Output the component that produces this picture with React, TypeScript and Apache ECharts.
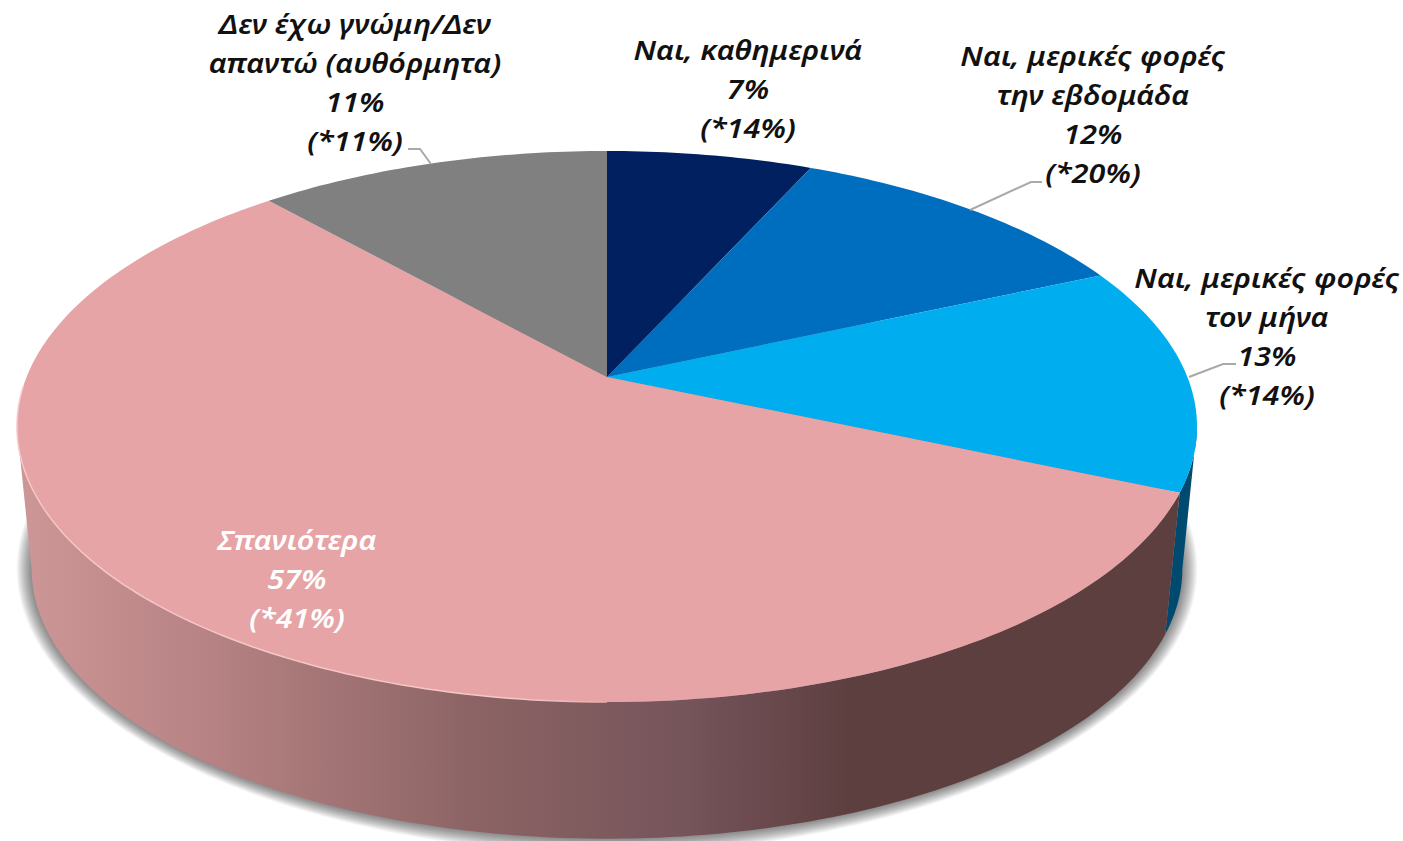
import React, { useEffect, useRef } from "react";
import * as echarts from "echarts";

const sliceNames = [
  "Ναι, καθημερινά",
  "Ναι, μερικές φορές\nτην εβδομάδα",
  "Ναι, μερικές φορές\nτον μήνα",
  "Σπανιότερα",
  "Δεν έχω γνώμη/Δεν\nαπαντώ (αυθόρμητα)",
];
const sliceValues = [6.7, 11.6, 13.3, 56.9, 11.5];
const shownPercent = [7, 12, 13, 57, 11];
const earlierPercent = [14, 20, 14, 41, 11];
const sliceColors = ["#002060", "#006EBF", "#00AEEF", "#E6A4A6", "#808080"];

const W = 1403;
const H = 841;
const CX = 607;
const persp = -0.1797;
const topFace = { a: 580.4, b: 198.9, c: 377 };
const bottomFace = { a: 566, b: 167.6, c: 520.4 };
const rightExtreme = 100.35;
const leftExtreme = 259.65;
const shadowRings = 15;

const labelBoxes = [
  { x: 748, y: 88, fill: "#111" },
  { x: 1093, y: 114, fill: "#111" },
  { x: 1267, y: 336, fill: "#111" },
  { x: 297, y: 578, fill: "#fff" },
  { x: 355, y: 82, fill: "#111" },
];
const leaders: (number[][] | null)[] = [
  null,
  [[1042, 182], [1031, 182], [970, 210]],
  [[1236, 364], [1223, 364], [1189, 377]],
  null,
  [[408, 149], [420, 149], [431, 164]],
];

const total = sliceValues.reduce((s, v) => s + v, 0);
const startAngle = (i: number) =>
  (sliceValues.slice(0, i).reduce((s, v) => s + v, 0) / total) * 360;

function project(f: typeof topFace, deg: number) {
  const t = (deg * Math.PI) / 180;
  const X = Math.sin(t);
  const Y = -Math.cos(t);
  const w = 1 + persp * Y;
  return [CX + (f.a * X) / w, (f.c + f.b * Y) / w];
}
function arc(f: typeof topFace, from: number, to: number) {
  const n = Math.max(2, Math.ceil(Math.abs(to - from)));
  const pts: number[][] = [];
  for (let i = 0; i <= n; i++) pts.push(project(f, from + ((to - from) * i) / n));
  return pts;
}
// lower outline pushed outwards by `grow` pixels, for the soft drop shadow
function grownBottom(grow: number) {
  const cy = 569;
  return arc(bottomFace, 0, 360).map(([x, y]) => {
    const dx = x - CX;
    const dy = y - cy;
    const r = Math.hypot(dx, dy) || 1;
    return [x + (dx / r) * grow, y + (dy / r) * grow];
  });
}

const wallPink = new echarts.graphic.LinearGradient(
  30, 0, 850, 0,
  [
    { offset: 0, color: "#CC9596" },
    { offset: 0.2, color: "#B98485" },
    { offset: 0.55, color: "#8B6364" },
    { offset: 0.8, color: "#75545A" },
    { offset: 1, color: "#5E3F40" },
  ],
  true
);
const wallColors: any[] = [null, null, "#004A70", wallPink, null];

export default function App() {
  const ref = useRef<HTMLDivElement>(null);
  useEffect(() => {
    document.body.style.margin = "0";
    const chart = echarts.init(ref.current!, null, { renderer: "svg", width: W, height: H });
    const sliceData = sliceValues.map((v, i) => ({ name: sliceNames[i], value: [v, i] }));
    chart.setOption({
      animation: false,
      backgroundColor: "#fff",
      series: [
        {
          type: "custom",
          coordinateSystem: "none",
          silent: true,
          z: 1,
          data: [0],
          renderItem: () => ({
            type: "group",
            children: Array.from({ length: shadowRings }, (_, k) => ({
              type: "polygon",
              shape: { points: grownBottom(shadowRings - k) },
              style: { fill: "rgba(0,0,0,0.036)" },
            })),
          }),
        },
        {
          type: "custom",
          coordinateSystem: "none",
          silent: true,
          z: 2,
          data: sliceData,
          renderItem: (_p: any, api: any) => {
            const i = api.value(1);
            if (!wallColors[i]) return { type: "group", children: [] };
            const s = startAngle(i);
            const e = s + (api.value(0) / total) * 360;
            const from = Math.max(s, rightExtreme);
            const to = Math.min(e, leftExtreme);
            return {
              type: "polygon",
              shape: { points: [...arc(topFace, from, to), ...arc(bottomFace, to, from)] },
              style: { fill: wallColors[i] },
            };
          },
        },
        {
          type: "custom",
          coordinateSystem: "none",
          silent: true,
          z: 3,
          data: sliceData,
          renderItem: (_p: any, api: any) => {
            const i = api.value(1);
            const s = startAngle(i);
            const e = s + (api.value(0) / total) * 360;
            return {
              type: "polygon",
              shape: { points: [[CX, topFace.c], ...arc(topFace, s, e)] },
              style: { fill: sliceColors[i] },
            };
          },
        },
        {
          type: "custom",
          coordinateSystem: "none",
          silent: true,
          z: 4,
          data: [0],
          renderItem: () => ({
            type: "polyline",
            shape: { points: arc(topFace, 180, 268) },
            style: {
              fill: "none",
              stroke: new echarts.graphic.LinearGradient(
                20, 0, 640, 0,
                [
                  { offset: 0, color: "#F7C6C6" },
                  { offset: 0.8, color: "#F7C6C6" },
                  { offset: 1, color: "#E6A4A6" },
                ],
                true
              ),
              lineWidth: 1.5,
            },
          }),
        },
        {
          type: "custom",
          coordinateSystem: "none",
          silent: true,
          z: 5,
          data: sliceData,
          renderItem: (_p: any, api: any) => {
            const i = api.value(1);
            const box = labelBoxes[i];
            const children: any[] = [
              {
                type: "text",
                x: box.x,
                y: box.y,
                scaleX: 1.13,
                style: {
                  text: `${sliceNames[i]}\n${shownPercent[i]}%\n(*${earlierPercent[i]}%)`,
                  x: 0,
                  y: 0,
                  fill: box.fill,
                  font: 'italic 600 27px "Noto Sans"',
                  lineHeight: 39,
                  align: "center",
                  verticalAlign: "middle",
                },
              },
            ];
            if (leaders[i]) {
              children.unshift({
                type: "polyline",
                shape: { points: leaders[i] },
                style: { fill: "none", stroke: "#A9A9A9", lineWidth: 2 },
              });
            }
            return { type: "group", children };
          },
        },
      ],
    });
    return () => chart.dispose();
  }, []);
  return <div ref={ref} style={{ position: "absolute", left: 0, top: 0, width: W, height: H }} />;
}
